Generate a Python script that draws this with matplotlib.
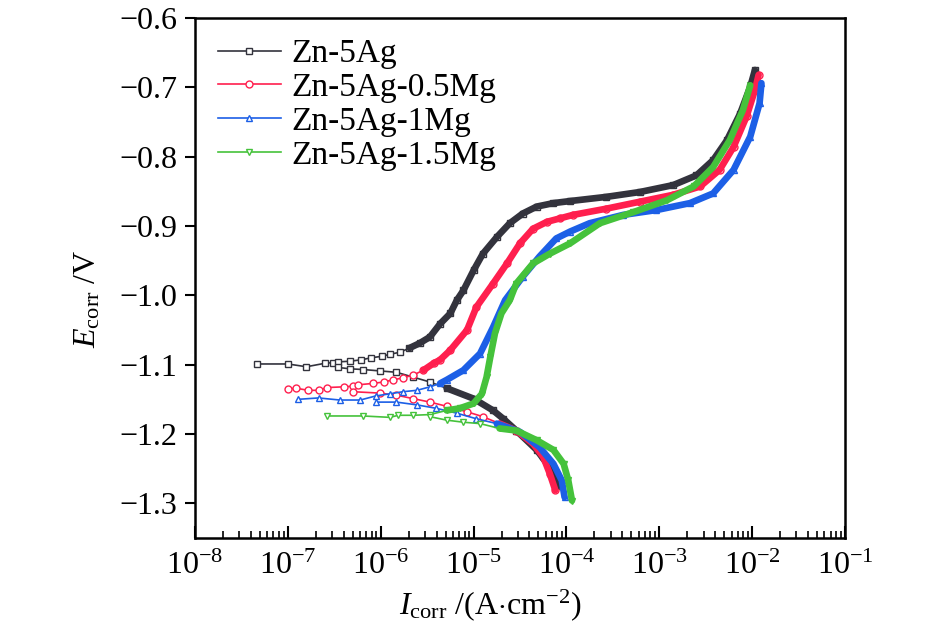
import numpy as np
import matplotlib
matplotlib.use("Agg")
from matplotlib import pyplot as plt
from matplotlib.ticker import FixedLocator, FuncFormatter, LogLocator, NullLocator

plt.rcParams['font.family'] = ['Liberation Serif', 'DejaVu Serif']
plt.rcParams['mathtext.fontset'] = 'custom'
plt.rcParams['mathtext.rm'] = 'Liberation Serif'
plt.rcParams['mathtext.it'] = 'Liberation Serif:italic'

# Polarisation curves: log10(I / A·cm^-2) and E / V
labels = ['Zn-5Ag', 'Zn-5Ag-0.5Mg', 'Zn-5Ag-1Mg', 'Zn-5Ag-1.5Mg']

# anodic branches (from E_corr upwards)
black_an_logi = [-7.33, -7.00, -6.80, -6.60, -6.51, -6.46, -6.33, -6.21, -6.10, -5.99, -5.90, -5.79,
                 -5.69, -5.58, -5.47, -5.36, -5.25, -5.18, -5.11, -5.00, -4.90, -4.75, -4.61, -4.47,
                 -4.32, -4.14, -3.96, -3.57, -3.21, -2.85, -2.60, -2.42, -2.27, -2.13, -2.02, -1.97]
black_an_e = [-1.099, -1.099, -1.103, -1.098, -1.097, -1.096, -1.095, -1.093, -1.090, -1.088, -1.085, -1.082,
              -1.076, -1.069, -1.060, -1.041, -1.026, -1.007, -0.993, -0.964, -0.940, -0.916, -0.896, -0.882,
              -0.872, -0.867, -0.864, -0.858, -0.851, -0.841, -0.827, -0.805, -0.776, -0.738, -0.699, -0.675]
red_an_logi = [-7.00, -6.91, -6.78, -6.67, -6.58, -6.40, -6.30, -6.24, -6.08, -5.97, -5.87, -5.76, -5.65,
               -5.54, -5.43, -5.36, -5.25, -5.07, -4.97, -4.79, -4.64, -4.50, -4.36, -4.21, -4.07, -3.93,
               -3.57, -3.21, -2.85, -2.56, -2.35, -2.20, -2.06, -1.97, -1.93]
red_an_e = [-1.135, -1.134, -1.137, -1.137, -1.133, -1.132, -1.131, -1.129, -1.127, -1.125, -1.122, -1.119,
            -1.115, -1.108, -1.098, -1.093, -1.079, -1.050, -1.017, -0.983, -0.954, -0.925, -0.904, -0.894,
            -0.889, -0.884, -0.875, -0.865, -0.855, -0.843, -0.819, -0.786, -0.742, -0.704, -0.682]
blue_an_logi = [-6.89, -6.67, -6.44, -6.22, -6.05, -5.90, -5.76, -5.61, -5.47, -5.36, -5.29, -5.11, -4.93,
                -4.79, -4.66, -4.47, -4.29, -4.11, -3.96, -3.75, -3.39, -3.03, -2.67, -2.42, -2.20, -2.02,
                -1.92, -1.90]
blue_an_e = [-1.150, -1.148, -1.151, -1.151, -1.145, -1.142, -1.139, -1.137, -1.132, -1.127, -1.122, -1.108,
             -1.084, -1.046, -1.007, -0.973, -0.944, -0.918, -0.908, -0.896, -0.884, -0.877, -0.867, -0.853,
             -0.819, -0.771, -0.723, -0.694]
green_an_logi = [-6.58, -6.19, -5.90, -5.81, -5.65, -5.47, -5.29, -5.15, -5.00, -4.91, -4.86, -4.82, -4.77,
                 -4.70, -4.61, -4.54, -4.36, -4.18, -3.96, -3.64, -3.28, -2.92, -2.63, -2.42, -2.24, -2.10,
                 -2.02]
green_an_e = [-1.174, -1.174, -1.176, -1.173, -1.173, -1.172, -1.166, -1.163, -1.156, -1.142, -1.118, -1.089,
              -1.055, -1.026, -1.007, -0.983, -0.954, -0.940, -0.925, -0.896, -0.880, -0.863, -0.843, -0.815,
              -0.776, -0.733, -0.697]

# cathodic branches (from E_corr downwards)
black_ca_logi = [-6.46, -6.33, -6.19, -6.01, -5.83, -5.65, -5.47, -5.29, -5.00, -4.79, -4.68, -4.54, -4.32,
                 -4.18, -4.09]
black_ca_e = [-1.104, -1.106, -1.107, -1.109, -1.111, -1.118, -1.125, -1.134, -1.149, -1.166, -1.178, -1.195,
              -1.223, -1.248, -1.275]
red_ca_logi = [-6.30, -6.01, -5.83, -5.65, -5.47, -5.29, -5.07, -4.90, -4.72, -4.54, -4.36, -4.25, -4.18, -4.12]
red_ca_e = [-1.139, -1.141, -1.144, -1.149, -1.154, -1.160, -1.168, -1.175, -1.185, -1.195, -1.214, -1.233,
            -1.257, -1.281]
blue_ca_logi = [-6.05, -5.83, -5.61, -5.40, -5.18, -4.97, -4.75, -4.50, -4.29, -4.14, -4.05, -4.02]
blue_ca_e = [-1.154, -1.154, -1.158, -1.163, -1.170, -1.178, -1.185, -1.197, -1.219, -1.243, -1.267, -1.291]
green_ca_logi = [-5.47, -5.29, -5.11, -4.93, -4.72, -4.54, -4.32, -4.14, -4.03, -3.98, -3.94]
green_ca_e = [-1.175, -1.180, -1.183, -1.185, -1.192, -1.195, -1.209, -1.223, -1.243, -1.267, -1.296]

anodic = [(black_an_logi, black_an_e), (red_an_logi, red_an_e),
          (blue_an_logi, blue_an_e), (green_an_logi, green_an_e)]
cathodic = [(black_ca_logi, black_ca_e), (red_ca_logi, red_ca_e),
            (blue_ca_logi, blue_ca_e), (green_ca_logi, green_ca_e)]

colors = ['#33333d', '#ff1f4e', '#1c5fe6', '#45c23b']
markers = ['s', 'o', '^', 'v']
# where the markers get so dense that they merge into a band
band_an = [-5.7, -5.55, -5.4, -5.3]
band_ca = [-5.3, -4.8, -4.8, -4.8]

fig = plt.figure(figsize=(9.45, 6.28), dpi=100)
ax = fig.add_axes([195 / 945, 1 - 538 / 628, 650 / 945, 520 / 628])

handles = []
for i in range(4):
    c = colors[i]
    for (li, e), thr in ((anodic[i], band_an[i]), (cathodic[i], band_ca[i])):
        li = np.array(li)
        e = np.array(e)
        I = 10.0 ** li
        h, = ax.plot(I, e, color=c, lw=1.2, marker=markers[i], ms=5, mfc='white', mec=c, mew=1.0)
        m = li >= thr
        ax.plot(I[m], e[m], color=c, lw=4.8, solid_capstyle='round', solid_joinstyle='round', zorder=3)
    handles.append(h)

ax.set_xscale('log')
ax.set_xlim(1e-8, 1e-1)
ax.set_ylim(-1.35, -0.6)

ax.xaxis.set_major_locator(LogLocator(base=10, numticks=20))
ax.xaxis.set_minor_locator(LogLocator(base=10, subs=np.arange(2, 10), numticks=20))
ax.xaxis.set_major_formatter(FuncFormatter(lambda v, p: r'$10^{%d}$' % round(np.log10(v))))
ax.yaxis.set_major_locator(FixedLocator([-1.3, -1.2, -1.1, -1.0, -0.9, -0.8, -0.7, -0.6]))
ax.yaxis.set_major_formatter(FuncFormatter(lambda v, p: ('%.1f' % v).replace('-', '\u2212')))
ax.yaxis.set_minor_locator(NullLocator())

ax.tick_params(axis='x', which='major', direction='in', length=9, width=1.5, labelsize=23, pad=10)
ax.tick_params(axis='x', which='minor', direction='in', length=5, width=1.2)
ax.tick_params(axis='y', which='major', direction='out', length=7, width=1.5, labelsize=23, pad=6)
ax.tick_params(top=False, right=False)
for s in ax.spines.values():
    s.set_linewidth(1.8)

ax.set_xlabel(r'$I_{\rm corr}$ /(A$\cdot$cm$^{-2}$)', fontsize=23)
ax.set_ylabel(r'$E_{\rm corr}$ /V', fontsize=23)
ax.xaxis.set_label_coords(0.454, -0.095)
ax.yaxis.set_label_coords(-0.143, 0.46)

ax.legend(handles, labels, loc='upper left', bbox_to_anchor=(0.035, 0.96), frameon=False,
          fontsize=24, handlelength=1.9, handletextpad=0.3, labelspacing=0.1,
          borderaxespad=0.0, borderpad=0.0)

fig.savefig('out.png', dpi=100)
